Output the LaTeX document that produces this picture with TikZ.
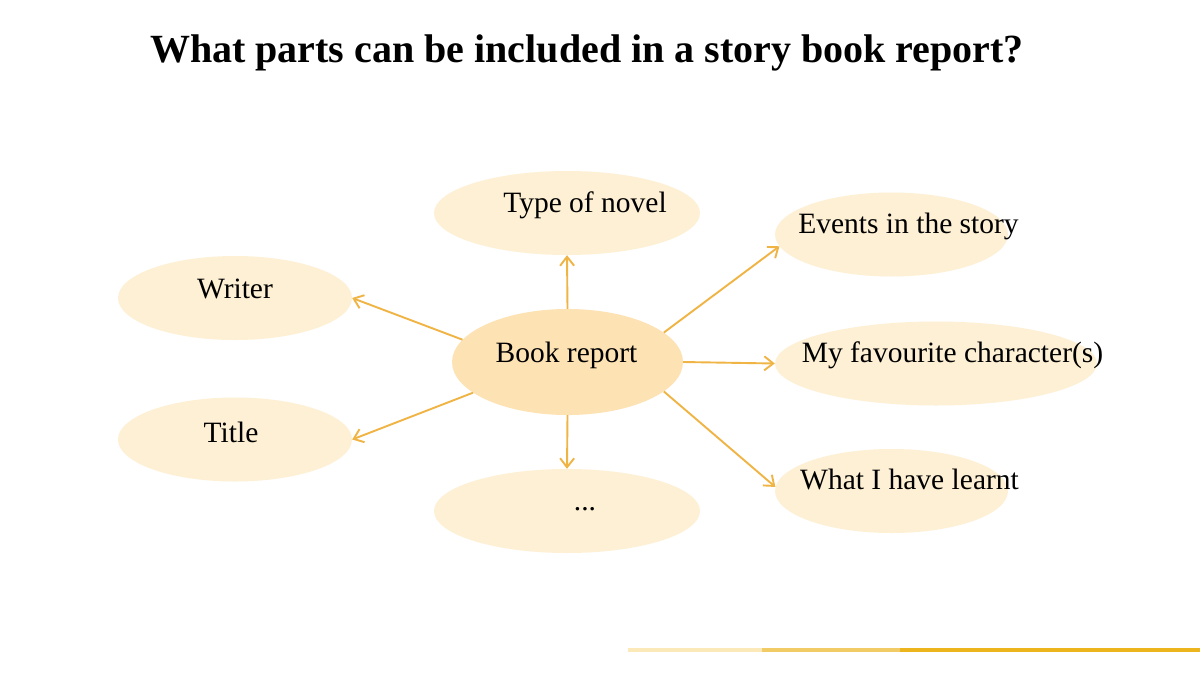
\documentclass[tikz,border=0pt]{standalone}
\usepackage{fontspec}
\setmainfont{Liberation Serif}
\usetikzlibrary{arrows.meta,shapes.geometric}
\definecolor{ink}{HTML}{000000}
\definecolor{gold}{HTML}{F0B445}
\definecolor{cream}{HTML}{FEF0D4}
\definecolor{peach}{HTML}{FDE2B4}
\definecolor{barlight}{HTML}{FCE9BA}
\definecolor{barmid}{HTML}{F0CB66}
\definecolor{bardark}{HTML}{ECB51E}

\begin{document}
\begin{tikzpicture}[
 x=1pt,y=-1pt,
 heading/.style={font=\bfseries\fontsize{40}{46}\selectfont,text=ink,anchor=base},
 word/.style={font=\fontsize{29.5}{34}\selectfont,text=ink,anchor=base,inner sep=0pt},
 bubble/.style={ellipse,fill=cream,inner sep=0pt,minimum width=234pt,minimum height=84pt},
 flow/.style={-{Straight Barb[length=9pt,width=14pt]},line width=1.9pt,draw=gold}
]
\useasboundingbox[fill=white] (0,0) rectangle (1200,675);
\node[heading] (question) at (587,62) {What parts can be included in a story book report?};

% Bubbles.
\node[bubble,minimum width=231pt,minimum height=106pt,fill=peach] (book) at (567.5,362) {};
\node[bubble,minimum width=266pt] (novel) at (567,213) {};
\node[bubble] (writer) at (235,298) {};
\node[bubble] (titlebub) at (235,439.5) {};
\node[bubble,minimum width=266pt] (more) at (567,511) {};
\node[bubble,minimum width=233pt] (events) at (891.5,234.5) {};
\node[bubble,minimum width=322pt] (fav) at (936,363.5) {};
\node[bubble,minimum width=233pt] (learnt) at (891.5,491) {};

% Texts, set a little off the bubble centres.
\node[word] (booktext) at (566.5,362) {Book report};
\node[word] (noveltext) at (585,212) {Type of novel};
\node[word] (writertext) at (235,298) {Writer};
\node[word] (titletext) at (231,442) {Title};
\node[word] (moretext) at (585,510) {...};
\node[word] (eventstext) at (908.5,233) {Events in the story};
\node[word] (favtext) at (952.5,362) {My favourite character(s)};
\node[word] (learnttext) at (909.5,489) {What I have learnt};

% Arrows out of the centre.
\draw[flow] (book.north) -- (novel.south);
\draw[flow] (book.17) -- (events.186);
\draw[flow] (book.168) -- (writer.east);
\draw[flow] (book.east) -- (fav.west);
\draw[flow] (book.198) -- (titlebub.east);
\draw[flow] (book.south) -- (more.north);
\draw[flow] (book.343) -- (learnt.178);

% Bar at the foot.
\fill[barlight] (628,648) rectangle (762,652);
\fill[barmid] (762,648) rectangle (900,652);
\fill[bardark] (900,648) rectangle (1200,652);
\end{tikzpicture}
\end{document}
